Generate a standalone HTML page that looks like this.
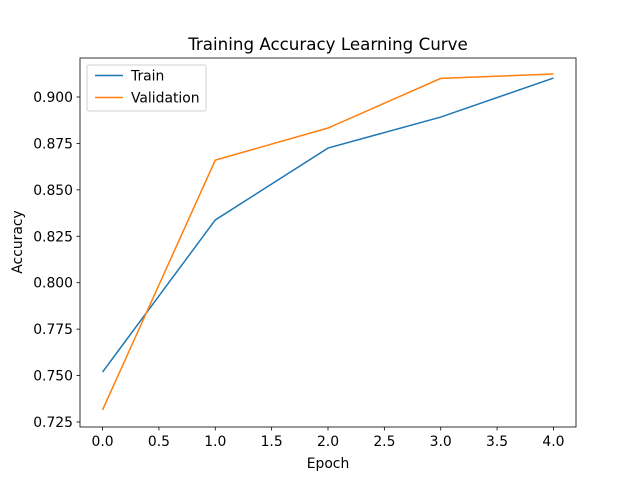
<!DOCTYPE html>
<html><head><meta charset="utf-8"><style>
body{margin:0;background:#fff}
svg{display:block;font-family:"DejaVu Sans","Liberation Sans",sans-serif}
</style></head><body>
<svg id="chart" width="640" height="480">
<rect width="640" height="480" fill="#fff"/>
<text x="328" y="50" text-anchor="middle" font-size="16.7">Training Accuracy Learning Curve</text>
<g id="axes"></g>
<text x="328" y="468" text-anchor="middle" font-size="13.9">Epoch</text>
<text transform="translate(22,242) rotate(-90)" text-anchor="middle" font-size="13.9">Accuracy</text>
</svg>
<script>
const epochs=[0,1,2,3,4];
const trainAcc=[0.7519,0.8338,0.8725,0.8892,0.9102];
const valAcc=[0.7315,0.866,0.8833,0.910,0.9124];
const xTicks=[0,0.5,1,1.5,2,2.5,3,3.5,4];
const yTicks=[0.725,0.75,0.775,0.8,0.825,0.85,0.875,0.9];
const L=80,R=576,T=58,B=427;
const xmin=-0.2,xmax=4.2,ymin=0.7223,ymax=0.921;
const sx=v=>L+(v-xmin)/(xmax-xmin)*(R-L);
const sy=v=>B-(v-ymin)/(ymax-ymin)*(B-T);
const NS="http://www.w3.org/2000/svg";
const g=document.getElementById('axes');
function mk(t,a){const e=document.createElementNS(NS,t);for(const k in a)e.setAttribute(k,a[k]);g.appendChild(e);return e;}
xTicks.forEach(v=>{
 const l=mk('line',{x1:sx(v),x2:sx(v),y1:B,y2:B+3.5,stroke:'#000','stroke-width':0.8});
 
 
 const t=mk('text',{x:sx(v),y:B+19,'text-anchor':'middle','font-size':13.9});
 t.textContent=v.toFixed(1);
 
 
});
yTicks.forEach(v=>{
 const l=mk('line',{x1:L-3.5,x2:L,y1:sy(v),y2:sy(v),stroke:'#000','stroke-width':0.8});
 
 
 const t=mk('text',{x:L-7,y:sy(v)+5,'text-anchor':'end','font-size':13.9});
 t.textContent=v.toFixed(3);
 
 
});
function line(vals,color,name){
 const p=mk('polyline',{points:epochs.map((e,i)=>sx(e)+','+sy(vals[i])).join(' '),fill:'none',stroke:color,'stroke-width':1.5});
 
 
}
line(trainAcc,'#1f77b4','train-line');
line(valAcc,'#ff7f0e','validation-line');
const fr=mk('rect',{x:L,y:T,width:R-L,height:B-T,fill:'none',stroke:'#000','stroke-width':0.8});


const lg=mk('rect',{x:87,y:65,width:119,height:46,rx:2,fill:'#fff',stroke:'#ccc','stroke-width':1,opacity:0.9});


[['Train','#1f77b4',75.5],['Validation','#ff7f0e',97.5]].forEach(([n,c,y])=>{
 const l=mk('line',{x1:95,x2:123,y1:y,y2:y,stroke:c,'stroke-width':1.5});
 
 
 const t=mk('text',{x:131,y:y+5,'font-size':13.9});
 t.textContent=n;
 
 
});
</script>
</body></html>
